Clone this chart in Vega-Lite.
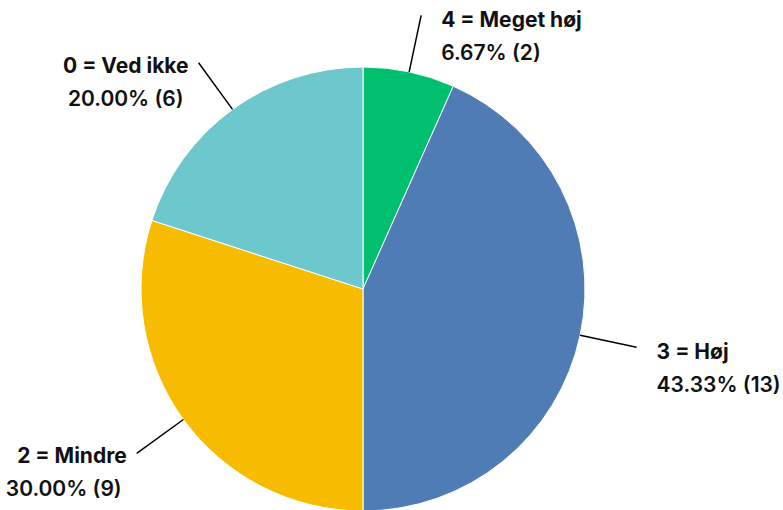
{
  "$schema": "https://vega.github.io/schema/vega-lite/v6.json",
  "width": 444,
  "height": 444,
  "autosize": {"type": "none"},
  "padding": {"left": 141, "top": 67, "right": 198, "bottom": 0},
  "background": "white",
  "config": {"view": {"stroke": null}, "font": "Inter"},
  "data": {
    "values": [
      {"category": "4 = Meget høj", "count": 2, "pct": 6.67},
      {"category": "3 = Høj", "count": 13, "pct": 43.33},
      {"category": "2 = Mindre", "count": 9, "pct": 30.0},
      {"category": "0 = Ved ikke", "count": 6, "pct": 20.0}
    ]
  },
  "transform": [
    {"joinaggregate": [{"op": "sum", "field": "count", "as": "total"}]},
    {"window": [{"op": "sum", "field": "count", "as": "cum"}], "sort": [{"field": "category", "order": "descending"}], "frame": [null, 0]},
    {"calculate": "2 * PI * (datum.cum - datum.count / 2) / datum.total", "as": "mid"},
    {"calculate": "sin(datum.mid)", "as": "x0"},
    {"calculate": "cos(datum.mid)", "as": "y0"},
    {"calculate": "1.26 * sin(datum.mid)", "as": "x1"},
    {"calculate": "1.26 * cos(datum.mid)", "as": "y1"},
    {"calculate": "format(datum.pct, '.2f') + '% (' + datum.count + ')'", "as": "label2"}
  ],
  "layer": [
    {
      "mark": {"type": "arc", "stroke": "white", "strokeWidth": 1},
      "encoding": {
        "theta": {"field": "count", "type": "quantitative", "stack": true},
        "color": {
          "field": "category",
          "type": "nominal",
          "sort": "descending",
          "scale": {
            "domain": ["4 = Meget høj", "3 = Høj", "2 = Mindre", "0 = Ved ikke"],
            "range": ["#00BF6F", "#4F7CB5", "#F7BC00", "#6CC8CC"]
          },
          "legend": null
        },
        "order": {"field": "category", "sort": "descending"}
      }
    },
    {
      "mark": {"type": "rule", "color": "black", "strokeWidth": 1.5},
      "encoding": {
        "x": {"field": "x0", "type": "quantitative", "scale": {"domain": [-1, 1], "nice": false, "zero": false}, "axis": null},
        "y": {"field": "y0", "type": "quantitative", "scale": {"domain": [-1, 1], "nice": false, "zero": false}, "axis": null},
        "x2": {"field": "x1"},
        "y2": {"field": "y1"}
      }
    },
    {
      "transform": [{"filter": "datum.x1 >= 0"}],
      "layer": [
        {
          "mark": {"type": "text", "align": "left", "baseline": "middle", "dx": 20, "dy": 6, "fontSize": 21, "fontWeight": "bold", "color": "#111111"},
          "encoding": {
            "x": {"field": "x1", "type": "quantitative"},
            "y": {"field": "y1", "type": "quantitative"},
            "text": {"field": "category"}
          }
        },
        {
          "mark": {"type": "text", "align": "left", "baseline": "middle", "dx": 20, "dy": 39, "fontSize": 21, "fontWeight": 600, "color": "#111111"},
          "encoding": {
            "x": {"field": "x1", "type": "quantitative"},
            "y": {"field": "y1", "type": "quantitative"},
            "text": {"field": "label2"}
          }
        }
      ]
    },
    {
      "transform": [{"filter": "datum.x1 < 0"}],
      "layer": [
        {
          "mark": {"type": "text", "align": "right", "baseline": "middle", "dx": -10, "dy": 4, "fontSize": 21, "fontWeight": "bold", "color": "#111111"},
          "encoding": {
            "x": {"field": "x1", "type": "quantitative"},
            "y": {"field": "y1", "type": "quantitative"},
            "text": {"field": "category"}
          }
        },
        {
          "mark": {"type": "text", "align": "right", "baseline": "middle", "dx": -15, "dy": 37, "fontSize": 21, "fontWeight": 600, "color": "#111111"},
          "encoding": {
            "x": {"field": "x1", "type": "quantitative"},
            "y": {"field": "y1", "type": "quantitative"},
            "text": {"field": "label2"}
          }
        }
      ]
    }
  ]
}
